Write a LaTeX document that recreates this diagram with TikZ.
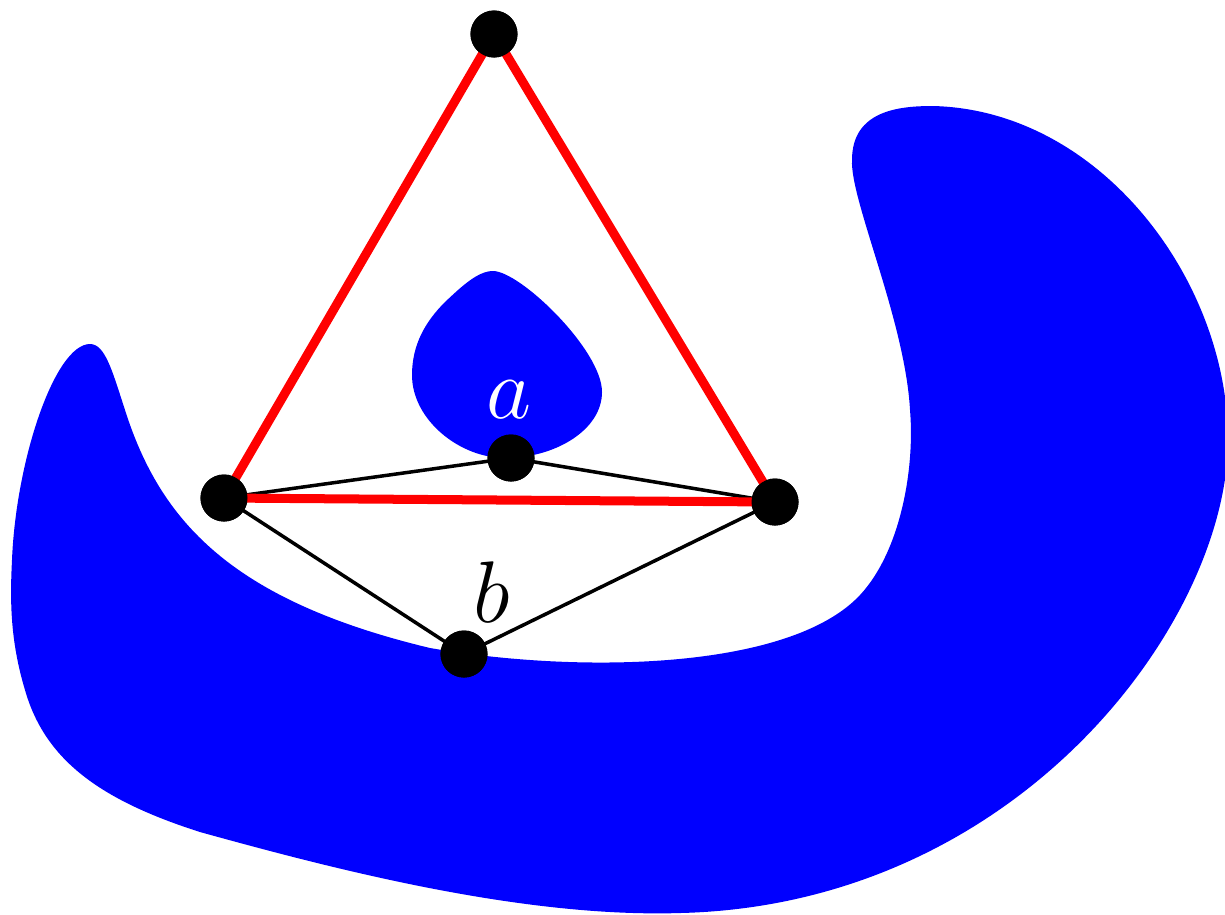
\documentclass[tikz,border=0pt]{standalone}
\begin{document}
\begin{tikzpicture}[x=0.01cm,y=-0.01cm,
  vdot/.style={circle,fill=black,inner sep=0pt,minimum size=0.47cm},
  rededge/.style={red,line width=0.09cm},
  blackedge/.style={black,line width=0.035cm},
  lbl/.style={inner sep=0pt,font=\fontsize{24}{28}\selectfont}]
\useasboundingbox (0,0) rectangle (1225,914);
% big blob
\fill[blue] (90,344) .. controls (105,344) and (112,370) .. (125,410)
  .. controls (160,520) and (230,600) .. (430,648)
  .. controls (580,674) and (790,670) .. (860,595)
  .. controls (900,552) and (915,470) .. (910,410)
  .. controls (905,320) and (850,200) .. (852,160)
  .. controls (852,110) and (900,106) .. (933,106)
  .. controls (1100,110) and (1228,280) .. (1228,440)
  .. controls (1228,620) and (1020,905) .. (680,913)
  .. controls (520,918) and (330,868) .. (200,832)
  .. controls (100,800) and (45,760) .. (25,690)
  .. controls (10,640) and (10,600) .. (12,560)
  .. controls (16,460) and (55,344) .. (90,344) -- cycle;
% small blob
\fill[blue] (493,271) .. controls (478,271) and (462,286) .. (445,302)
  .. controls (425,322) and (412,345) .. (412,375)
  .. controls (412,420) and (460,458) .. (505,458)
  .. controls (555,458) and (602,430) .. (602,392)
  .. controls (602,350) and (520,271) .. (493,271) -- cycle;
% vertices
\node[vdot] (t) at (494,34) {};
\node[vdot] (l) at (224,498) {};
\node[vdot] (r) at (775,502) {};
\node[vdot] (a) at (511,458) {};
\node[vdot] (b) at (464,654) {};
% edges
\draw[rededge] (t.center) -- (l.center);
\draw[rededge] (t.center) -- (r.center);
\draw[blackedge] (l.center) -- (a.center) -- (r.center);
\draw[blackedge] (l.center) -- (b.center) -- (r.center);
\draw[rededge] (l.center) -- (r.center);
% dots on top of edges
\foreach \n in {t,l,r,a,b} \fill[black] (\n) circle[radius=0.235cm];
\node[lbl,text=white] (la) at (509,400) {$a$};
\node[lbl] (lb) at (492,592) {$b$};
\end{tikzpicture}
\end{document}
